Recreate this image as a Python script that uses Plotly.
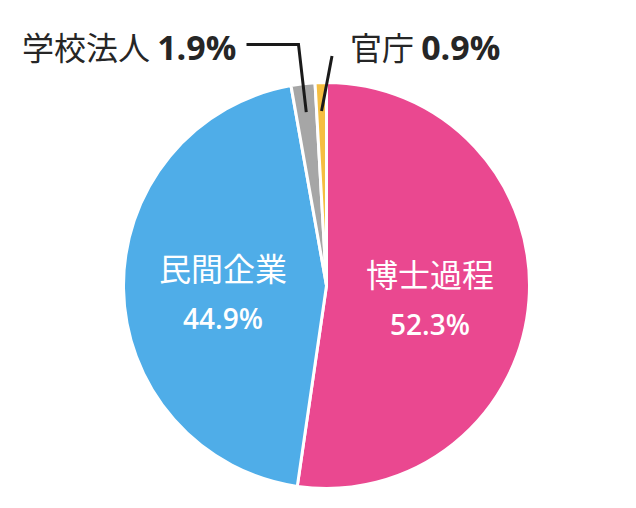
import math
import plotly.graph_objects as go

# ---- data ----
labels = ["博士過程", "民間企業", "学校法人", "官庁"]
values = [52.3, 44.9, 1.9, 0.9]
colors = ["#EA4890", "#4FADE8", "#A6A6A6", "#F5BE41"]
inside = [True, True, False, False]

W, H = 636, 508
CX, CY, R = 326.5, 285.5, 203

def px(x):
    return x / W

def py(y):
    return 1 - y / H

fig = go.Figure(go.Pie(
    labels=labels, values=values, sort=False, direction="clockwise", rotation=0,
    marker=dict(colors=colors, line=dict(color="white", width=3)),
    textinfo="none", hoverinfo="skip", showlegend=False,
    domain=dict(x=[px(CX - R), px(CX + R)], y=[py(CY + R), py(CY - R)]),
))

total = sum(values)
mids = []
acc = 0
for v in values:
    mids.append((acc + v / 2) / total * 2 * math.pi)
    acc += v

def polar(theta, r):
    return CX + r * math.sin(theta), CY - r * math.cos(theta)

TXT = "#262626"
NUM_IN = "font-family:Open Sans;font-weight:600;font-size:28px"
NUM_OUT = "font-family:Open Sans;font-weight:bold;font-size:34px"
ann = []
shapes = []
for i, (lab, v) in enumerate(zip(labels, values)):
    pct = f"{v:.1f}%"
    if inside[i]:
        bx, by = polar(mids[i], 0.51 * R)
        by += 4
        ann.append(dict(x=px(bx), y=py(by - 24), xref="paper", yref="paper", text=lab,
                        showarrow=False, xanchor="center", yanchor="middle",
                        font=dict(family="Noto Sans CJK JP", size=32, color="white")))
        ann.append(dict(x=px(bx), y=py(by + 27), xref="paper", yref="paper",
                        text=f"<span style='{NUM_IN}'>{pct}</span>",
                        showarrow=False, xanchor="center", yanchor="middle",
                        font=dict(family="Open Sans", size=28, color="white")))

# outside labels with leader lines
LY = 46
sx, sy = polar(mids[2], 0.86 * R)
shapes.append(dict(type="path", xref="paper", yref="paper",
                   path=f"M {px(sx)} {py(sy)} L {px(298.5)} {py(44.5)} L {px(246.5)} {py(44.5)}",
                   line=dict(color="#1a1a1a", width=3)))
ann.append(dict(x=px(238), y=py(LY), xref="paper", yref="paper",
                text=f"{labels[2]} <span style='{NUM_OUT}'>{values[2]:.1f}%</span>",
                showarrow=False, xanchor="right", yanchor="middle",
                font=dict(family="Noto Sans CJK JP", size=32, color=TXT)))

sx, sy = polar(mids[3], 0.86 * R)
shapes.append(dict(type="path", xref="paper", yref="paper",
                   path=f"M {px(sx)} {py(sy)} L {px(332)} {py(56)}",
                   line=dict(color="#1a1a1a", width=3)))
ann.append(dict(x=px(348), y=py(LY), xref="paper", yref="paper",
                text=f"{labels[3]} <span style='{NUM_OUT}'>{values[3]:.1f}%</span>",
                showarrow=False, xanchor="left", yanchor="middle",
                font=dict(family="Noto Sans CJK JP", size=32, color=TXT)))

fig.update_layout(width=W, height=H, margin=dict(l=0, r=0, t=0, b=0),
                  paper_bgcolor="white", plot_bgcolor="white",
                  annotations=ann, shapes=shapes)
fig.write_html("out.html", config={"displayModeBar": False},
               post_script="document.body.style.margin='0';")
